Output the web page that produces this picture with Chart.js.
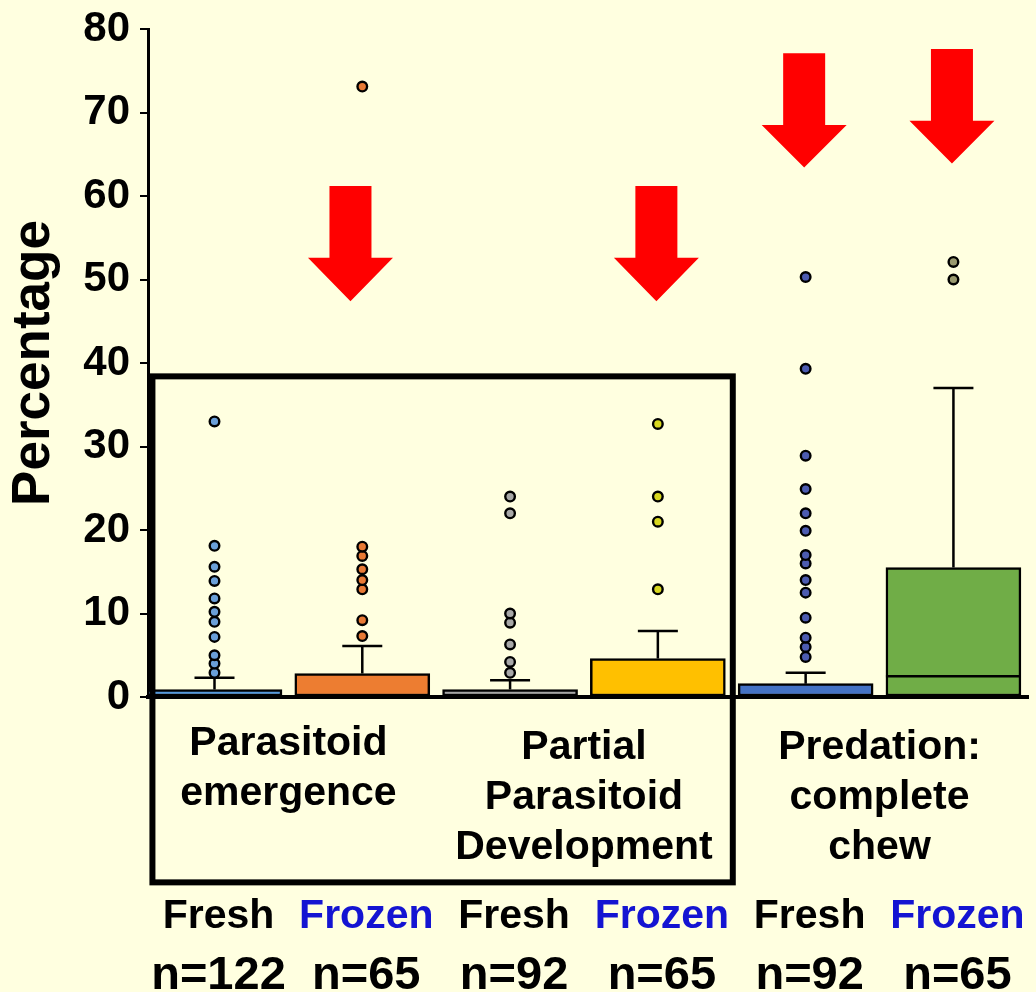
<!DOCTYPE html>
<html><head><meta charset="utf-8">
<script src="https://cdn.jsdelivr.net/npm/chart.js@4/dist/chart.umd.min.js"></script>
<style>html,body{margin:0;padding:0;background:#ffffe0;overflow:hidden}canvas{display:block}</style>
</head><body>
<canvas id="c" width="1036" height="992"></canvas>
<script>
// ---- data ----
const categories = ['Fresh', 'Frozen', 'Fresh', 'Frozen', 'Fresh', 'Frozen'];
const sampleSizes = ['n=122', 'n=65', 'n=92', 'n=65', 'n=92', 'n=65'];
const groupLabels = [['Parasitoid', 'emergence'], ['Partial', 'Parasitoid', 'Development'], ['Predation:', 'complete', 'chew']];
const groupCenters = [0.5, 2.5, 4.5];
const q1 = [0, 0, 0, 0, 0, 0];
const median = [0, 0, 0, 0, 0, 2.5];
const q3 = [0.9, 2.8, 0.9, 4.6, 1.6, 15.5];
const whiskerHigh = [2.3, 6.1, 2.0, 7.9, 2.9, 37.0];
const outliersFresh1 = [2.9, 4.0, 5.0, 7.2, 9.0, 10.2, 11.8, 13.9, 15.6, 18.1, 33.0];
const outliersFrozen1 = [7.3, 9.2, 12.9, 14.0, 15.3, 16.9, 18.0, 73.1];
const outliersFresh2 = [2.9, 4.2, 6.3, 8.9, 10.0, 22.0, 24.0];
const outliersFrozen2 = [12.9, 21.0, 24.0, 32.7];
const outliersFresh3 = [4.8, 6.0, 7.1, 9.5, 12.5, 14.0, 16.0, 17.0, 19.9, 22.0, 24.9, 28.9, 39.3, 50.3];
const outliersFrozen3 = [50.0, 52.1];
const outliers = [outliersFresh1, outliersFrozen1, outliersFresh2, outliersFrozen2, outliersFresh3, outliersFrozen3];
const yTicks = [0, 10, 20, 30, 40, 50, 60, 70, 80];
// annotation arrows (x in category units, y in percentage units)
const arrowX = [0.92, 2.99, 3.99, 4.99];
const arrowTop = [61.2, 61.2, 77.1, 77.6];
const arrowHeadBase = [52.6, 52.6, 68.5, 69.0];
const arrowTip = [47.4, 47.4, 63.4, 63.9];
// highlight frame (category units / percentage units)
const frameX = [-0.42, 3.507];
const frameY = [38.4, -22.2];

// ---- styles ----
const boxColors = ['#5599dc', '#ed7d31', '#a5a5a5', '#ffc000', '#4472c4', '#70ad47'];
const dotColors = ['#6a9fd8', '#e87a36', '#a8a8a8', '#d8d820', '#4c5bb0', '#9a9a70'];
const FONT = "'Liberation Sans', Arial, sans-serif";

const boxData = categories.map((c, i) => ({x: i, y: [q1[i], q3[i]]}));
const outlierData = [];
const outlierColors = [];
outliers.forEach((arr, i) => arr.forEach(v => { outlierData.push({x: i, y: v}); outlierColors.push(dotColors[i]); }));

const decor = {
  id: 'decor',
  beforeDatasetsDraw(chart) {
    const {ctx, scales: {x, y}} = chart;
    ctx.save();
    ctx.strokeStyle = '#000';
    ctx.lineWidth = 2.5;
    categories.forEach((c, i) => {
      const cx = x.getPixelForValue(i);
      const yt = y.getPixelForValue(whiskerHigh[i]);
      const yb = y.getPixelForValue(q3[i]);
      ctx.beginPath();
      ctx.moveTo(cx, yb); ctx.lineTo(cx, yt);
      ctx.moveTo(cx - 20, yt); ctx.lineTo(cx + 20, yt);
      ctx.stroke();
    });
    ctx.restore();
  },
  afterDatasetsDraw(chart) {
    const {ctx, scales: {x, y}} = chart;
    ctx.save();
    ctx.strokeStyle = '#000';
    ctx.lineWidth = 2.5;
    const bw = chart.getDatasetMeta(0).data[0].width;
    categories.forEach((c, i) => {
      if (median[i] <= q1[i]) return;
      const cx = x.getPixelForValue(i);
      const my = y.getPixelForValue(median[i]);
      ctx.beginPath();
      ctx.moveTo(cx - bw / 2, my); ctx.lineTo(cx + bw / 2, my);
      ctx.stroke();
    });
    ctx.fillStyle = '#ff0000';
    arrowX.forEach((ax, i) => {
      const cx = x.getPixelForValue(ax);
      const t = y.getPixelForValue(arrowTop[i]);
      const b = y.getPixelForValue(arrowHeadBase[i]);
      const tip = y.getPixelForValue(arrowTip[i]);
      ctx.beginPath();
      ctx.moveTo(cx - 21, t); ctx.lineTo(cx + 21, t); ctx.lineTo(cx + 21, b);
      ctx.lineTo(cx + 42.5, b); ctx.lineTo(cx, tip); ctx.lineTo(cx - 42.5, b);
      ctx.lineTo(cx - 21, b); ctx.closePath();
      ctx.fill();
    });
    ctx.restore();
  },
  afterDraw(chart) {
    const {ctx, scales: {x, y}} = chart;
    ctx.save();
    ctx.strokeStyle = '#000';
    ctx.lineWidth = 6;
    const fx0 = x.getPixelForValue(frameX[0]), fx1 = x.getPixelForValue(frameX[1]);
    const fy0 = y.getPixelForValue(frameY[0]), fy1 = y.getPixelForValue(frameY[1]);
    ctx.strokeRect(fx0, fy0, fx1 - fx0, fy1 - fy0);
    ctx.fillStyle = '#000';
    ctx.textAlign = 'center';
    ctx.textBaseline = 'alphabetic';
    ctx.font = `bold 41px ${FONT}`;
    const firstBase = [755, 759, 759];
    groupLabels.forEach((lines, g) => {
      const cx = x.getPixelForValue(groupCenters[g]);
      lines.forEach((t, k) => ctx.fillText(t, cx, firstBase[g] + k * 50));
    });
    ctx.font = `bold 41px ${FONT}`;
    categories.forEach((c, i) => {
      ctx.fillStyle = c === 'Frozen' ? '#1414d2' : '#000';
      ctx.fillText(c, x.getPixelForValue(i) + 4, 928);
    });
    ctx.fillStyle = '#000';
    ctx.font = `bold 47px ${FONT}`;
    sampleSizes.forEach((s, i) => ctx.fillText(s, x.getPixelForValue(i) + 4, 989));
    ctx.restore();
  }
};

new Chart(document.getElementById('c'), {
  data: {
    datasets: [
      {type: 'bar', data: boxData, backgroundColor: boxColors, borderColor: '#000', borderWidth: 2.5,
       borderSkipped: false, barThickness: 135, order: 2},
      {type: 'scatter', data: outlierData, pointBackgroundColor: outlierColors, pointBorderColor: '#000',
       pointBorderWidth: 2.4, pointRadius: 4.8, order: 1}
    ]
  },
  options: {
    responsive: false,
    animation: false,
    devicePixelRatio: 1,
    layout: {padding: {top: 29, right: 5, bottom: 295, left: 0}},
    plugins: {legend: {display: false}, tooltip: {enabled: false}},
    scales: {
      x: {
        type: 'linear', min: -0.45, max: 5.51, offset: false,
        afterBuildTicks: s => { s.ticks = categories.map((c, i) => ({value: i})); },
        ticks: {display: false},
        grid: {display: false, drawTicks: false, offset: false},
        border: {display: true, color: '#000', width: 4}
      },
      y: {
        type: 'linear', min: 0, max: 80,
        afterBuildTicks: s => { s.ticks = yTicks.map(v => ({value: v})); },
        ticks: {color: '#000', padding: 10, font: {family: FONT, weight: 'bold', size: 42, lineHeight: 0.9}},
        grid: {drawOnChartArea: false, drawTicks: true, tickLength: 8, color: '#000', lineWidth: 2},
        border: {display: true, color: '#000', width: 3},
        title: {display: true, text: 'Percentage', color: '#000', padding: {top: 3, bottom: 0},
                font: {family: FONT, weight: 'bold', size: 53}},
        afterFit: s => { s.width = 148; s.paddingTop = 0; }
      }
    }
  },
  plugins: [decor]
});
</script>
</body></html>
